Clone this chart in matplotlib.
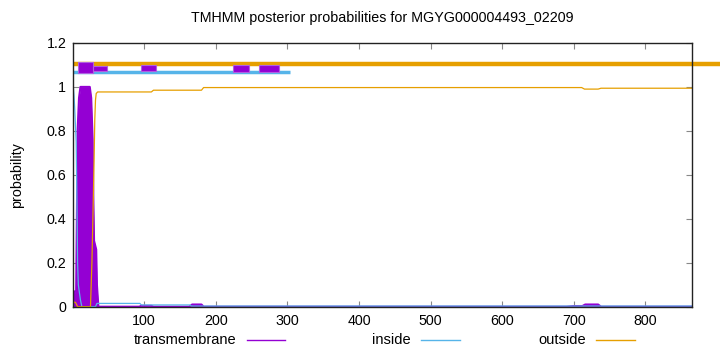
import matplotlib
matplotlib.use("Agg")
import matplotlib.pyplot as plt
from matplotlib.lines import Line2D

plt.rcParams['font.family'] = ['Liberation Sans', 'DejaVu Sans']

# posterior curves as (position, probability) points
tm_pos = [1, 3, 5, 6, 7, 9, 11, 24, 26, 28, 29, 30, 33, 34, 36, 93, 96, 110, 113,
          163, 167, 180, 183, 690, 700, 712, 716, 734, 738, 865]
tm_val = [0.0, 0.07, 0.07, 0.4, 0.8, 0.95, 1.0, 1.0, 0.95, 0.76, 0.49, 0.3, 0.26, 0.1, 0.0,
          0.0, 0.004, 0.004, 0.0, 0.0, 0.01, 0.01, 0.0, 0.0, 0.003, 0.003, 0.01, 0.01, 0.0, 0.0]

in_pos = [1, 2, 3, 5, 6, 7, 8, 11, 13, 32, 34, 94, 96, 164, 166, 865]
in_val = [1.0, 0.96, 0.9, 0.75, 0.5, 0.2, 0.1, 0.03, 0.0, 0.0, 0.015, 0.015, 0.008, 0.008, 0.003, 0.003]

out_pos = [1, 4, 7, 25, 27, 28, 29, 30, 31, 32, 33, 35, 110, 113, 180, 183, 711, 715, 734, 738, 865]
out_val = [0.02, 0.02, 0.0, 0.0, 0.2, 0.35, 0.5, 0.66, 0.85, 0.94, 0.97, 0.977, 0.977, 0.985,
           0.985, 0.997, 0.997, 0.99, 0.99, 0.994, 0.994]

# predicted topology segments along the top
out_seg = [(1, 904)]
in_seg = [(1, 303)]
tm_boxes = [(7, 29), (29, 48), (95, 117), (224, 246), (260, 288)]
tm_lo = [1.062, 1.073, 1.072, 1.07, 1.07]
tm_hi = [1.112, 1.097, 1.1, 1.1, 1.1]

purple = '#9400D3'
blue = '#56B4E9'
orange = '#E69F00'

fig = plt.figure(figsize=(7.2, 3.52), dpi=100)
ax = fig.add_axes([0.1018, 0.1287, 0.8592, 0.7493])

ax.fill_between(tm_pos, tm_val, 0, color=purple, lw=0, zorder=2)
ax.plot(tm_pos, tm_val, color=purple, lw=1.5, zorder=2)
ax.plot(in_pos, in_val, color=blue, lw=0.9, zorder=3)
ax.plot(out_pos, out_val, color=orange, lw=0.9, zorder=4)

for a, b in in_seg:
    ax.plot([a, b], [1.067, 1.067], color=blue, lw=2.5, solid_capstyle='butt', zorder=5)
for a, b in out_seg:
    ax.plot([a, b], [1.106, 1.106], color=orange, lw=3.2, solid_capstyle='butt',
            zorder=6, clip_on=False)
for (a, b), lo, hi in zip(tm_boxes, tm_lo, tm_hi):
    ax.fill_between([a, b], [lo, lo], [hi, hi], color=purple, lw=0.8,
                    edgecolor='#b060e0', zorder=7)

ax.set_xlim(1, 865)
ax.set_ylim(0, 1.2)
ax.set_xticks([100, 200, 300, 400, 500, 600, 700, 800])
ax.set_yticks([0, 0.2, 0.4, 0.6, 0.8, 1.0, 1.2])
ax.set_yticklabels(['0', '0.2', '0.4', '0.6', '0.8', '1', '1.2'])
ax.tick_params(direction='in', length=4, width=0.8, color='#888888',
               top=True, right=True, labelsize=10.3, pad=5)
for s in ax.spines.values():
    s.set_linewidth(1)
    s.set_color('#222222')
    s.set_zorder(8)

ax.set_ylabel('probability', fontsize=10.3, labelpad=16)
ax.set_title('TMHMM posterior probabilities for MGYG000004493_02209', fontsize=10.3, pad=15)

# gnuplot style key below the axis
key = [('transmembrane', 236, 247, 285, purple),
       ('inside', 411, 421, 460, blue),
       ('outside', 586, 596, 635, orange)]
ky = 1 - 340 / 352
for label, tx, x0, x1, c in key:
    fig.text(tx / 720, ky, label, ha='right', va='center', fontsize=10.5)
    fig.add_artist(Line2D([x0 / 720, x1 / 720], [ky, ky], color=c, lw=1))

fig.savefig('out.png', dpi=100)
